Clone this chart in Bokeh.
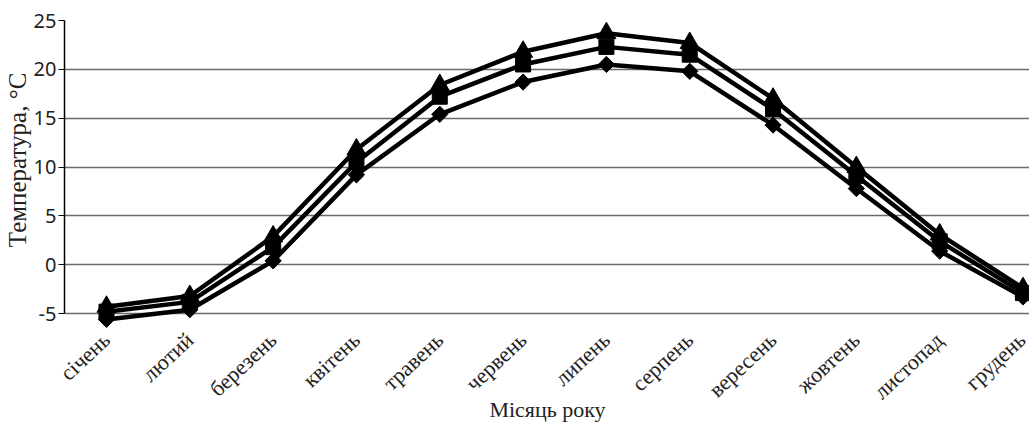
import math
from bokeh.plotting import figure
from bokeh.embed import file_html
from bokeh.resources import INLINE
from bokeh.models import Range1d, FixedTicker

months = ["січень", "лютий", "березень", "квітень", "травень", "червень",
          "липень", "серпень", "вересень", "жовтень", "листопад", "грудень"]
series_top = [-4.3, -3.2, 2.9, 11.8, 18.4, 21.8, 23.7, 22.7, 17.0, 10.0, 3.1, -2.4]
series_mid = [-4.8, -3.8, 1.8, 10.5, 17.2, 20.5, 22.3, 21.5, 15.9, 9.1, 2.4, -2.9]
series_bot = [-5.6, -4.6, 0.4, 9.2, 15.4, 18.7, 20.5, 19.8, 14.3, 7.8, 1.4, -3.3]
y_ticks = [-5, 0, 5, 10, 15, 20, 25]
y_tick_labels = ["-5", "0", "5", "10", "15", "20", "25"]

xs = list(range(len(months)))

p = figure(frame_width=966, frame_height=310, output_backend="svg", toolbar_location=None,
           x_range=Range1d(-0.504, 11.09), y_range=Range1d(-6.73, 25),
           min_border_left=63, min_border_right=0, min_border_top=20,
           min_border_bottom=0)
p.outline_line_color = None

p.line(xs, series_bot, line_color="black", line_width=4.5)
p.scatter(xs, series_bot, marker="square", angle=math.pi / 4, size=11.5,
          fill_color="black", line_color="black")
p.line(xs, series_mid, line_color="black", line_width=4.5)
p.scatter(xs, series_mid, marker="square", size=15, fill_color="black", line_color="black")
p.line(xs, series_top, line_color="black", line_width=4.5)
p.scatter(xs, series_top, marker="triangle", size=19, fill_color="black", line_color="black")

p.yaxis.ticker = FixedTicker(ticks=y_ticks)
p.yaxis.major_label_overrides = dict(zip(y_ticks, y_tick_labels))
p.yaxis.bounds = (-5, 25)
p.yaxis.axis_label = "\u00a0" * 5 + "Температура, °С"
p.yaxis.axis_label_text_font = "Liberation Serif"
p.yaxis.axis_label_text_font_style = "normal"
p.yaxis.axis_label_text_font_size = "25px"
p.yaxis.axis_label_text_color = "#222222"
p.yaxis.major_label_text_font = "Noto Sans"
p.yaxis.major_label_text_font_size = "20px"
p.yaxis.major_label_text_color = "#222222"
p.yaxis.axis_line_color = "black"
p.yaxis.axis_line_width = 1.5
p.yaxis.major_tick_line_color = "black"
p.yaxis.major_tick_in = 0
p.yaxis.major_tick_out = 6
p.yaxis.minor_tick_line_color = None
p.yaxis.axis_label_standoff = 0
p.yaxis.major_label_standoff = 2

p.xaxis.ticker = FixedTicker(ticks=xs)
p.xaxis.major_label_overrides = {i: m for i, m in enumerate(months)}
p.xaxis.major_label_orientation = 0.75
p.xaxis.major_label_text_font = "Liberation Serif"
p.xaxis.major_label_text_font_size = "22px"
p.xaxis.major_label_text_color = "#222222"
p.xaxis.axis_label = "Місяць року"
p.xaxis.axis_label_text_font = "Liberation Serif"
p.xaxis.axis_label_text_font_style = "normal"
p.xaxis.axis_label_text_font_size = "22px"
p.xaxis.axis_label_text_color = "#222222"
p.xaxis.axis_line_color = None
p.xaxis.major_tick_line_color = None
p.xaxis.minor_tick_line_color = None
p.xaxis.major_label_standoff = 0
p.xaxis.axis_label_standoff = -19

p.xgrid.grid_line_color = None
p.ygrid.grid_line_color = "#6a6a6a"
p.ygrid.grid_line_width = 1.5

open("out.html", "w").write(file_html(p, INLINE))
